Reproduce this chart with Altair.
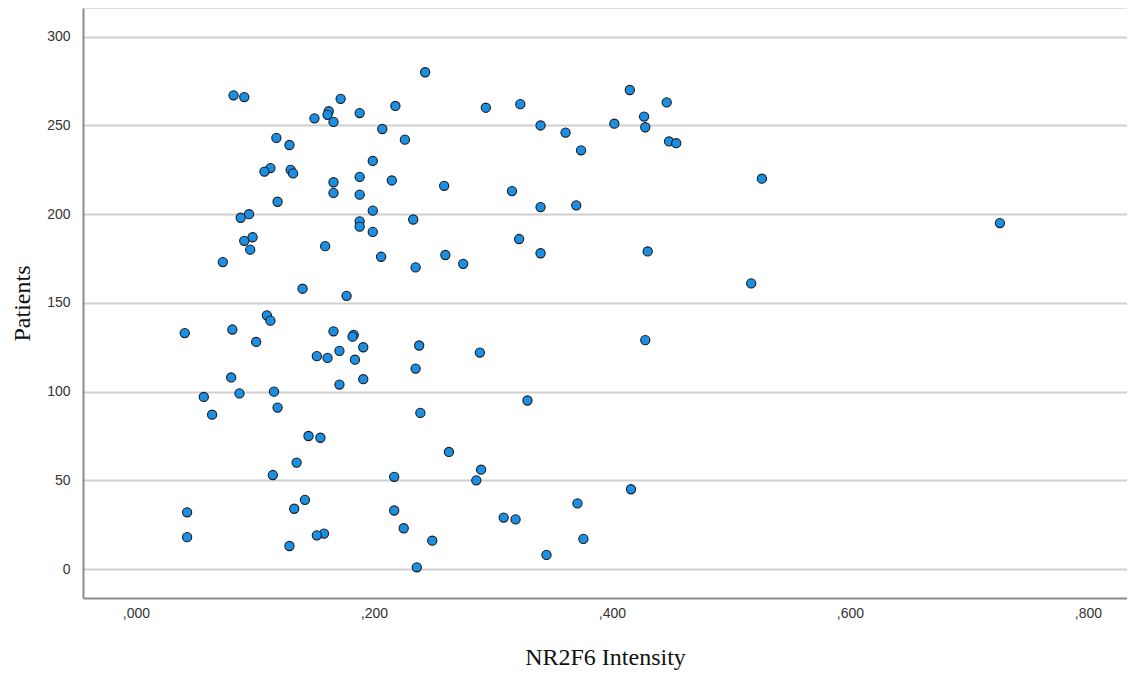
import altair as alt
import pandas as pd

intensity = [
    0.243, 0.082, 0.091, 0.172, 0.162, 0.161, 0.166, 0.150, 0.188, 0.218,
    0.294, 0.323, 0.340, 0.361, 0.374, 0.207, 0.226, 0.118, 0.129, 0.199,
    0.113, 0.108, 0.130, 0.132, 0.188, 0.166, 0.215, 0.259, 0.166, 0.188,
    0.316, 0.340, 0.370, 0.119, 0.095, 0.088, 0.199, 0.233, 0.188, 0.188,
    0.199, 0.091, 0.098, 0.096, 0.159, 0.322, 0.340, 0.073, 0.206, 0.260,
    0.275, 0.235, 0.140, 0.177, 0.415, 0.446, 0.427, 0.428, 0.402, 0.448,
    0.454, 0.526, 0.430, 0.517, 0.726, 0.110, 0.113, 0.041, 0.081, 0.101,
    0.166, 0.183, 0.182, 0.191, 0.171, 0.152, 0.161, 0.184, 0.238, 0.289,
    0.235, 0.171, 0.191, 0.080, 0.116, 0.087, 0.057, 0.064, 0.119, 0.239,
    0.329, 0.145, 0.155, 0.263, 0.135, 0.115, 0.217, 0.290, 0.286, 0.142,
    0.133, 0.043, 0.217, 0.309, 0.319, 0.225, 0.043, 0.158, 0.152, 0.129,
    0.249, 0.345, 0.236, 0.428, 0.416, 0.371, 0.376,
]
patients = [
    280, 267, 266, 265, 258, 256, 252, 254, 257, 261,
    260, 262, 250, 246, 236, 248, 242, 243, 239, 230,
    226, 224, 225, 223, 221, 218, 219, 216, 212, 211,
    213, 204, 205, 207, 200, 198, 202, 197, 196, 193,
    190, 185, 187, 180, 182, 186, 178, 173, 176, 177,
    172, 170, 158, 154, 270, 263, 255, 249, 251, 241,
    240, 220, 179, 161, 195, 143, 140, 133, 135, 128,
    134, 132, 131, 125, 123, 120, 119, 118, 126, 122,
    113, 104, 107, 108, 100, 99, 97, 87, 91, 88,
    95, 75, 74, 66, 60, 53, 52, 56, 50, 39,
    34, 32, 33, 29, 28, 23, 18, 20, 19, 13,
    16, 8, 1, 129, 45, 37, 17,
]
x_ticks = [0.0, 0.2, 0.4, 0.6, 0.8]
y_ticks = [0, 50, 100, 150, 200, 250, 300]

df = pd.DataFrame({"NR2F6 Intensity": intensity, "Patients": patients})

chart = (
    alt.Chart(df)
    .mark_circle(size=85, color="#1A8FE3", stroke="#1a1a1a", strokeWidth=1.1, opacity=1)
    .encode(
        x=alt.X(
            "NR2F6 Intensity:Q",
            scale=alt.Scale(domain=[-0.0445, 0.8328], nice=False, zero=False),
            axis=alt.Axis(
                values=x_ticks,
                labelExpr="replace(format(datum.value, '.3f'), '0.', ',')",
                grid=False,
                ticks=False,
                domainColor="#8c8c8c",
                domainWidth=2,
                labelFont="Liberation Sans",
                labelFontSize=14,
                labelColor="#333333",
                labelPadding=8,
                title="NR2F6 Intensity",
                titleFont="Liberation Serif",
                titleFontSize=24,
                titleFontWeight="normal",
                titleColor="#111111",
                titlePadding=25,
            ),
        ),
        y=alt.Y(
            "Patients:Q",
            scale=alt.Scale(domain=[-16.3, 316.2], nice=False, zero=False),
            axis=alt.Axis(
                values=y_ticks,
                grid=True,
                gridColor="#cfcfcf",
                gridWidth=2,
                ticks=False,
                domainColor="#8c8c8c",
                domainWidth=2,
                labelFont="Liberation Sans",
                labelFontSize=14,
                labelColor="#333333",
                labelPadding=13,
                title="Patients",
                titleFont="Liberation Serif",
                titleFontSize=24,
                titleFontWeight="normal",
                titleColor="#111111",
                titlePadding=12,
            ),
        ),
    )
    .properties(
        width=1044,
        height=590,
        autosize=alt.AutoSizeParams(type="none"),
        padding={"left": 75, "top": 0, "right": 0, "bottom": 76},
    )
    .configure_view(stroke=None)
    .configure(background="white")
)

chart.save("out.html", embed_options={"renderer": "svg", "actions": False})
